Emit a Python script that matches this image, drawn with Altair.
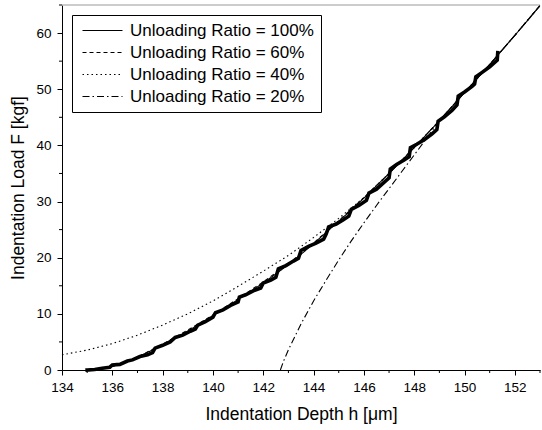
import altair as alt
import pandas as pd

# ---- data ----
meas_h = [135.0, 135.3, 135.6, 135.9, 136.0, 136.3, 136.6, 136.8, 137.1, 137.4, 137.6, 137.7,
          138.0, 138.3, 138.5, 138.8, 139.1, 139.3, 139.4, 139.7, 140.0, 140.1, 140.4, 140.7,
          141.0, 141.05, 141.3, 141.6, 141.9, 142.0, 142.3, 142.5, 142.6, 142.9, 143.2, 143.4,
          143.5, 143.8, 144.1, 144.4, 144.5, 144.6, 144.9, 145.2, 145.4, 145.5, 145.8, 146.1,
          146.2, 146.5, 146.8, 147.0, 147.05, 147.3, 147.6, 147.8, 147.85, 148.1, 148.4, 148.7,
          148.9, 148.95, 149.2, 149.5, 149.7, 149.75, 150.0, 150.3, 150.4, 150.45, 150.7, 151.0,
          151.3, 151.32]
meas_F = [0.0, 0.1, 0.3, 0.5, 0.9, 1.0, 1.6, 1.8, 2.4, 2.7, 3.1, 3.9,
          4.4, 5.0, 5.8, 6.2, 6.9, 7.3, 8.0, 8.6, 9.4, 10.2, 10.7, 11.5,
          12.1, 13.0, 13.4, 14.1, 14.6, 15.5, 16.0, 16.5, 18.0, 18.6, 19.4, 19.9,
          21.3, 22.0, 22.6, 23.3, 24.2, 25.5, 26.0, 26.8, 27.4, 28.6, 29.3, 30.2,
          31.5, 32.2, 33.4, 34.2, 35.8, 36.6, 37.4, 38.0, 39.6, 40.2, 41.0, 42.0,
          42.8, 44.3, 45.1, 46.2, 47.2, 48.8, 49.5, 50.5, 50.9, 52.2, 53.0, 54.0,
          55.2, 56.5]

fit100_h = [135.0, 135.5, 136.0, 136.5, 137.0, 137.5, 138.0, 138.5, 139.0, 139.5, 140.0, 140.5,
            141.0, 141.5, 142.0, 142.5, 143.0, 143.5, 144.0, 144.5, 145.0, 145.5, 146.0, 146.5,
            147.0, 147.5, 148.0, 148.5, 149.0, 149.5, 150.0, 150.5, 151.0, 151.5, 152.0, 152.5, 153.0]
fit100_F = [0.0, 0.2, 0.65, 1.4, 2.3, 3.35, 4.5, 5.7, 6.95, 8.3, 9.7, 11.1,
            12.55, 14.0, 15.5, 17.1, 18.8, 20.6, 22.5, 24.5, 26.5, 28.5, 30.6, 32.8,
            35.0, 37.3, 39.6, 42.0, 44.4, 46.9, 49.4, 51.9, 54.4, 57.0, 59.6, 62.2, 64.9]

fit60_h = [135.2, 136.0, 137.0, 138.0, 139.0, 140.0, 141.0, 142.0, 143.0, 144.0, 145.0, 146.0,
           147.0, 148.0, 149.0, 150.0, 151.0, 152.0, 153.0]
fit60_F = [0.0, 0.6, 2.3, 4.6, 7.1, 9.8, 12.7, 15.7, 18.9, 22.6, 26.6, 30.7,
           35.0, 39.6, 44.4, 49.4, 54.4, 59.6, 64.9]

fit40_h = [134.0, 135.0, 136.0, 137.0, 138.0, 139.0, 140.0, 141.0, 142.0, 143.0, 144.0, 145.0,
           146.0, 147.0, 148.0, 149.0, 150.0, 151.0, 152.0, 153.0]
fit40_F = [2.7, 3.55, 4.7, 6.2, 8.0, 10.0, 12.3, 14.9, 17.6, 20.4, 23.6, 27.0,
           30.7, 35.0, 39.6, 44.4, 49.4, 54.4, 59.6, 64.9]

fit20_h = [142.68, 142.8, 143.0, 143.25, 143.5, 144.0, 144.5, 145.0, 145.5, 146.0, 146.5, 147.0,
           147.5, 148.0, 148.5, 149.0, 150.0, 151.0, 152.0, 153.0]
fit20_F = [0.0, 1.5, 3.6, 5.9, 8.2, 12.3, 16.0, 19.6, 23.0, 26.2, 29.3, 32.3,
           35.3, 38.3, 41.3, 44.4, 49.4, 54.4, 59.6, 64.9]

series_names = ["Unloading Ratio = 100%", "Unloading Ratio = 60%",
                "Unloading Ratio = 40%", "Unloading Ratio = 20%"]

x_major = [134, 136, 138, 140, 142, 144, 146, 148, 150, 152]
x_minor = [135, 137, 139, 141, 143, 145, 147, 149, 151, 153]
y_major = [0, 10, 20, 30, 40, 50, 60]
y_minor = [5, 15, 25, 35, 45, 55, 65]

# ---- tables ----
meas = pd.DataFrame({"h": meas_h, "F": meas_F})
rows = []
for name, hs, fs in [(series_names[0], fit100_h, fit100_F), (series_names[1], fit60_h, fit60_F),
                     (series_names[2], fit40_h, fit40_F), (series_names[3], fit20_h, fit20_F)]:
    for i, (a, b) in enumerate(zip(hs, fs)):
        rows.append({"series": name, "h": a, "F": b, "order": i})
fits = pd.DataFrame(rows)
xmin = pd.DataFrame({"v": x_minor})
ymin = pd.DataFrame({"v": y_minor})

W, H = 478, 365
FONT = "Liberation Sans"

xscale = alt.Scale(domain=[134, 153], nice=False, zero=False)
yscale = alt.Scale(domain=[0, 65], nice=False, zero=True)

xaxis = alt.Axis(values=x_major, format="d", title="Indentation Depth h [\u03bcm]",
                 grid=False, tickSize=5, labelPadding=5, titlePadding=12,
                 domainColor="black", tickColor="black", labelColor="black",
                 labelFontSize=13.5, titleFontSize=17.5, titleFontWeight="normal",
                 labelFont=FONT, titleFont=FONT, labelFlush=False)
yaxis = alt.Axis(values=y_major, format="d", title="Indentation Load F [kgf]",
                 grid=False, tickSize=5, labelPadding=6, titlePadding=8,
                 domainColor="black", tickColor="black", labelColor="black",
                 labelFontSize=13.5, titleFontSize=17.5, titleFontWeight="normal",
                 labelFont=FONT, titleFont=FONT, labelFlush=False)

measured = alt.Chart(meas).mark_line(color="black", strokeWidth=3.6, strokeJoin="miter",
                                     strokeCap="square").encode(
    x=alt.X("h:Q", scale=xscale, axis=xaxis),
    y=alt.Y("F:Q", scale=yscale, axis=yaxis),
)

fit_lines = alt.Chart(fits).mark_line(color="black", strokeWidth=1.1).encode(
    x=alt.X("h:Q", scale=xscale),
    y=alt.Y("F:Q", scale=yscale),
    order="order:Q",
    strokeDash=alt.StrokeDash(
        "series:N",
        sort=series_names,
        scale=alt.Scale(domain=series_names,
                        range=[[1, 0], [4, 3], [1.5, 3], [7, 3, 1.5, 3]]),
        legend=alt.Legend(title=None, orient="none", legendX=10, legendY=10,
                          symbolType="M-1,0H7", symbolSize=100, symbolStrokeWidth=1.2,
                          symbolStrokeColor="black", labelFontSize=17, labelFont=FONT,
                          labelColor="black", strokeColor="black", fillColor="white",
                          padding=7, rowPadding=4, labelOffset=34, labelLimit=400),
    ),
)

minor_x = alt.Chart(xmin).mark_rule(color="black", strokeWidth=1).encode(
    x=alt.X("v:Q", scale=xscale),
    y=alt.value(H), y2=alt.value(H + 3),
)
minor_y = alt.Chart(ymin).mark_rule(color="black", strokeWidth=1).encode(
    y=alt.Y("v:Q", scale=yscale),
    x=alt.value(-3), x2=alt.value(0),
)
top_border = alt.Chart(pd.DataFrame({"a": [0]})).mark_rule(color="#999999", strokeWidth=1.2).encode(
    y=alt.value(0), x=alt.value(0), x2=alt.value(W),
)

chart = alt.layer(top_border, fit_lines, measured, minor_x, minor_y).properties(
    width=W, height=H,
    autosize=alt.AutoSizeParams(type="none"),
    padding={"left": 62, "top": 5, "right": 2, "bottom": 60},
    background="white",
).configure_view(stroke=None)

chart.save("out.html", embed_options={"renderer": "svg", "actions": False})
